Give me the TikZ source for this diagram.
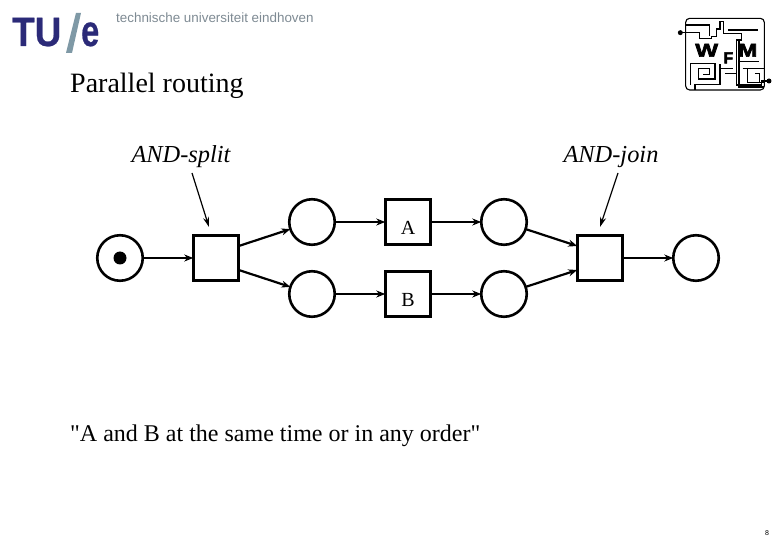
\documentclass[tikz,border=0pt]{standalone}
\usepackage{fontspec}
\setmainfont{Liberation Serif}
\newfontfamily\plainserif{Liberation Serif}
\newfontfamily\logosans{Liberation Sans}
\newfontfamily\logobold[FakeBold=0.6]{Liberation Sans Bold}
\newfontfamily\logoheavy[FakeBold=3]{Liberation Sans Bold}
\usetikzlibrary{arrows.meta}
\definecolor{tueblue}{HTML}{2B2A78}
\definecolor{tuegray}{HTML}{7F99A6}
\definecolor{tuetext}{HTML}{7E8A93}
\tikzset{
 x=1pt,y=-1pt,
 place/.style={circle,draw,line width=2.6pt,minimum size=45.5pt,inner sep=0pt,outer sep=0pt},
 trans/.style={rectangle,draw,line width=2.6pt,minimum size=45.5pt,inner sep=0pt,outer sep=0pt},
 arc/.style={draw,line width=2.2pt,-{Stealth[length=9pt,width=7pt]}},
 pointer/.style={draw,line width=1.2pt,-{Stealth[length=10pt,width=6pt]}},
 lbl/.style={inner sep=0pt,font=\fontsize{24}{26}\selectfont},
 tname/.style={inner sep=0pt,font=\fontsize{20}{22}\selectfont},
 maze/.style={line width=1.1pt,line join=miter},
 mazeb/.style={line width=2pt,line join=miter},
 wfm/.style={inner sep=0pt}
}
\begin{document}
\begin{tikzpicture}
\useasboundingbox (0,0) rectangle (780,540);
% TU/e logo
\node[wfm,anchor=base west,text=tueblue,font=\logobold\fontsize{41}{41}\selectfont,xscale=0.9] (tu) at (12,46) {TU};
\node[wfm,anchor=base west,text=tueblue,font=\logobold\fontsize{44}{44}\selectfont,xscale=0.74] (e) at (81,46) {e};
\fill[tuegray] (76,13) -- (81,13) -- (72,53) -- (66,53) -- cycle;
\node[anchor=base west,inner sep=0pt,text=tuetext,font=\logosans\fontsize{13.4}{14}\selectfont] (tue) at (116,23) {technische universiteit eindhoven};
% title
\node[lbl,anchor=base west,font=\fontsize{28}{30}\selectfont] (title) at (70,93) {Parallel routing};
% WFM logo
\begin{scope}[shift={(670,5)},x=0.3333pt,y=-0.3333pt]
\draw[maze,rounded corners=4pt] (47,40) rectangle (283,255);
\fill (31,83) circle (7.5);
\fill (297,228) circle (7.5);
\draw[maze] (31,83) -- (88,83) -- (88,100) -- (125,100) -- (125,94) -- (140,94) -- (140,72) -- (150,72) -- (150,50) -- (160,50) -- (160,85) -- (215,85) -- (215,105) -- (200,105) -- (200,240) -- (275,240) -- (275,228) -- (297,228);
\draw[maze] (47,60) -- (118,60) -- (118,92);
\draw[mazeb] (175,76) -- (265,76);
\draw[maze] (62,175) -- (135,175) -- (135,222) -- (85,222) -- (85,190) -- (118,190) -- (118,208) -- (100,208);
\draw[maze] (62,175) -- (62,240);
\draw[maze] (150,178) -- (150,238) -- (75,238) -- (75,255);
\draw[maze] (150,190) -- (190,190);
\draw[maze] (165,205) -- (200,205);
\draw[maze] (210,170) -- (266,170);
\draw[maze] (218,190) -- (283,190);
\draw[maze] (232,190) -- (232,232) -- (283,232);
\draw[maze] (255,205) -- (268,205) -- (268,232);
\draw[mazeb] (206,105) -- (206,245) -- (283,245);
\node[wfm,font=\logoheavy\fontsize{18.6}{20}\selectfont,xscale=1.3,anchor=base] (w) at (110,155) {W};
\node[wfm,font=\logoheavy\fontsize{16}{16}\selectfont,anchor=base] (f) at (175,175) {F};
\node[wfm,font=\logoheavy\fontsize{18.6}{20}\selectfont,xscale=1.23,anchor=base] (m) at (233,155) {M};
\end{scope}
% net
\node[place] (p0) at (120,258) {};
\fill (p0) circle (6.5);
\node[trans] (t1) at (216,258) {};
\node[place] (p1) at (312,222) {};
\node[place] (p2) at (312,294) {};
\node[trans] (a) at (408,222) {};
\node[trans] (b) at (408,294) {};
\node[tname,anchor=base] (la) at (408,235) {A};
\node[tname,anchor=base] (lb) at (408,307) {B};
\node[place] (p3) at (504,222) {};
\node[place] (p4) at (504,294) {};
\node[trans] (t2) at (600,258) {};
\node[place] (p5) at (696,258) {};
\draw[arc] (p0) -- (t1);
\draw[arc] (t1.east |- 0,246) -- (p1);
\draw[arc] (t1.east |- 0,270) -- (p2);
\draw[arc] (p1) -- (a);
\draw[arc] (p2) -- (b);
\draw[arc] (a) -- (p3);
\draw[arc] (b) -- (p4);
\draw[arc] (p3) -- (t2.west |- 0,246);
\draw[arc] (p4) -- (t2.west |- 0,270);
\draw[arc] (t2) -- (p5);
\node[lbl,anchor=base,font=\fontsize{24.4}{26}\selectfont\itshape] (ands) at (181,163) {AND-split};
\node[lbl,anchor=base,font=\fontsize{24.4}{26}\selectfont\itshape] (andj) at (611,163) {AND-join};
\coordinate (c1) at (192,173);
\coordinate (c1e) at (209,227);
\coordinate (c2) at (618,173);
\coordinate (c2e) at (600,227);
\draw[pointer] (c1) -- (c1e);
\draw[pointer] (c2) -- (c2e);
\node[lbl,anchor=base west,font=\plainserif\fontsize{24}{26}\selectfont] (q) at (70,441) {"A and B at the same time or in any order"};
\node[anchor=base,inner sep=0pt,font=\logosans\fontsize{7}{8}\selectfont] (pg) at (767,535) {8};
\end{tikzpicture}
\end{document}
